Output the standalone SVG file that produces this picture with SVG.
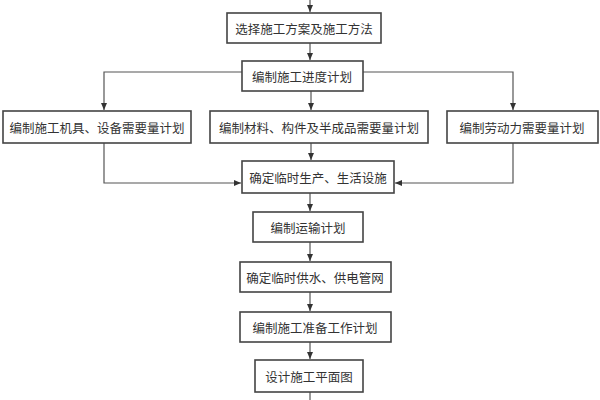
<svg xmlns="http://www.w3.org/2000/svg" width="600" height="400" viewBox="0 0 600 400">
<defs><marker id="a" markerWidth="8" markerHeight="8" refX="7" refY="4" orient="auto" markerUnits="userSpaceOnUse"><path d="M0,1 L7,4 L0,7 z" fill="#333"/></marker></defs>
<style>rect{fill:#fff;stroke:#444;stroke-width:1.6}text{font-family:"Noto Sans CJK SC",sans-serif;font-size:12.5px;fill:#333;text-anchor:middle;dominant-baseline:central}.c path{fill:none;stroke:#555;stroke-width:1.2}</style>
<rect x="0" y="0" width="600" height="400" style="fill:#fff;stroke:none"/>
<g class="c">
<path d="M310,0 V12" marker-end="url(#a)"/>
<path d="M310,43 V60" marker-end="url(#a)"/>
<path d="M242,72 H104 V110" marker-end="url(#a)"/>
<path d="M363,72 H513 V110" marker-end="url(#a)"/>
<path d="M311,91 V110" marker-end="url(#a)"/>
<path d="M104,143 V183 H241" marker-end="url(#a)"/>
<path d="M513,143 V183 H395" marker-end="url(#a)"/>
<path d="M311,143 V160" marker-end="url(#a)"/>
<path d="M310,193 V211" marker-end="url(#a)"/>
<path d="M310,242 V261" marker-end="url(#a)"/>
<path d="M310,292 V311" marker-end="url(#a)"/>
<path d="M310,342 V359" marker-end="url(#a)"/>
<path d="M310,392 V400"/>
</g>
<g id="n1"><rect x="227" y="13" width="154" height="30"/><text x="304" y="28">选择施工方案及施工方法</text></g>
<g id="n2"><rect x="242" y="61" width="121" height="30"/><text x="302" y="76">编制施工进度计划</text></g>
<g id="n3"><rect x="3" y="111" width="188" height="32"/><text x="97" y="127">编制施工机具、设备需要量计划</text></g>
<g id="n4"><rect x="210" y="111" width="218" height="32"/><text x="319" y="127">编制材料、构件及半成品需要量计划</text></g>
<g id="n5"><rect x="447" y="111" width="151" height="32"/><text x="522" y="127">编制劳动力需要量计划</text></g>
<g id="n6"><rect x="242" y="161" width="152" height="32"/><text x="318" y="177">确定临时生产、生活设施</text></g>
<g id="n7"><rect x="253" y="212" width="110" height="30"/><text x="308" y="227">编制运输计划</text></g>
<g id="n8"><rect x="240" y="262" width="151" height="30"/><text x="315" y="277">确定临时供水、供电管网</text></g>
<g id="n9"><rect x="240" y="312" width="151" height="30"/><text x="315" y="327">编制施工准备工作计划</text></g>
<g id="n10"><rect x="255" y="360" width="108" height="32"/><text x="309" y="376">设计施工平面图</text></g>
</svg>
